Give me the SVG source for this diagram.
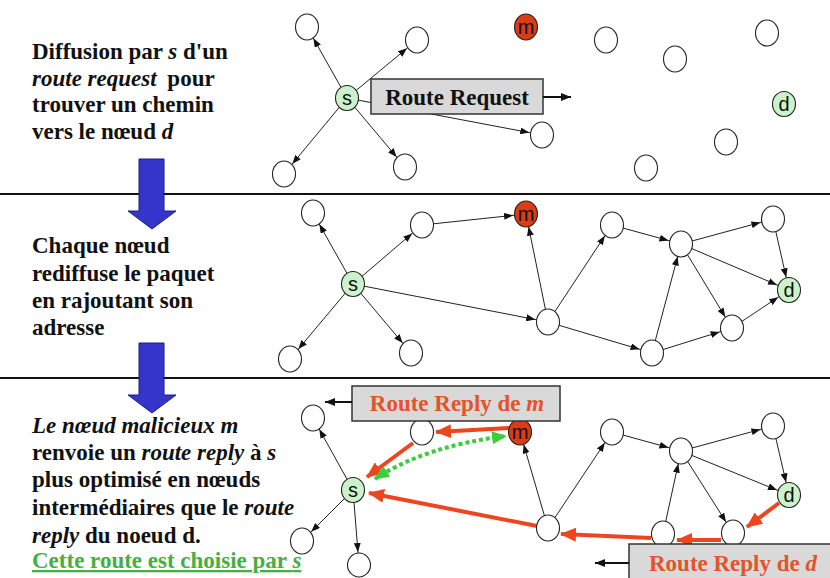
<svg xmlns="http://www.w3.org/2000/svg" width="830" height="578" viewBox="0 0 830 578">
<style>
.lbl{font-family:"Liberation Serif","Times New Roman",serif;font-weight:bold;font-size:23px;fill:#111}
.it{font-style:italic}
.n{fill:#fff;stroke:#222;stroke-width:1.1}
.ns{fill:#ccf2cc;stroke:#222;stroke-width:1.1}
.nm{fill:#dd3a16;stroke:#222;stroke-width:1.1}
.nt{font-family:"Liberation Sans",Arial,sans-serif;font-size:20px;fill:#111;text-anchor:middle}
.e{stroke:#222;stroke-width:1;fill:none;marker-end:url(#ah)}
.r{stroke:#ec4520;stroke-width:4;fill:none;marker-end:url(#rh)}
.box{fill:#d9d9d9;stroke:#333;stroke-width:1.5}
.bt{font-family:"Liberation Serif","Times New Roman",serif;font-weight:bold;font-size:23px;text-anchor:middle}
.sep{stroke:#111;stroke-width:2}
.blue{fill:#3535cc;stroke:#1c1c7a;stroke-width:1}
</style>
<defs>
<marker id="ah" markerUnits="userSpaceOnUse" viewBox="0 0 9 7" markerWidth="9" markerHeight="7" refX="22" refY="3.5" orient="auto"><path d="M0,0 L9,3.5 L0,7 z" fill="#111"/></marker>
<marker id="ak" markerUnits="userSpaceOnUse" viewBox="0 0 10 8" markerWidth="10" markerHeight="8" refX="10" refY="4" orient="auto"><path d="M0,0 L10,4 L0,8 z" fill="#111"/></marker>
<marker id="rh" markerUnits="userSpaceOnUse" viewBox="0 0 16 14" markerWidth="16" markerHeight="14" refX="15" refY="7" orient="auto"><path d="M0,0 L16,7 L0,14 z" fill="#ec4520"/></marker>
<marker id="gh" markerUnits="userSpaceOnUse" viewBox="0 0 15 13" markerWidth="15" markerHeight="13" refX="14" refY="6.5" orient="auto-start-reverse"><path d="M0,0 L15,6.5 L0,13 z" fill="#3ccc3c"/></marker>
</defs>

<line class="sep" x1="0" y1="194" x2="830" y2="194"/>
<line class="sep" x1="0" y1="378" x2="830" y2="378"/>

<g id="arrow1"><polygon class="blue" points="139,159 164,159 164,211 176,211 152,229 128,211 139,211"/></g>
<g id="arrow2"><polygon class="blue" points="139,343 164,343 164,395 176,395 152,413 128,395 139,395"/></g>

<g id="text1" class="lbl">
<text x="32" y="59">Diffusion par <tspan class="it">s</tspan> d'un</text>
<text x="32" y="86"><tspan class="it">route request</tspan><tspan dx="5"> pour</tspan></text>
<text x="32" y="112">trouver un chemin</text>
<text x="32" y="139">vers le nœud <tspan class="it">d</tspan></text>
</g>
<g id="text2" class="lbl">
<text x="32" y="253">Chaque nœud</text>
<text x="32" y="281">rediffuse le paquet</text>
<text x="32" y="308">en rajoutant son</text>
<text x="32" y="335">adresse</text>
</g>
<g id="text3" class="lbl">
<text x="32" y="433" class="it">Le nœud malicieux m</text>
<text x="32" y="460">renvoie un <tspan class="it">route reply</tspan> à <tspan class="it">s</tspan></text>
<text x="32" y="487">plus optimisé en nœuds</text>
<text x="32" y="515">intermédiaires que le <tspan class="it">route</tspan></text>
<text x="32" y="543"><tspan class="it">reply</tspan> du noeud d.</text>
<text x="32" y="568" style="fill:#44b044;text-decoration:underline">Cette route est choisie par <tspan class="it">s</tspan></text>
</g>

<g id="connectors">
<line class="e" x1="347" y1="98" x2="307" y2="27"/>
<line class="e" x1="347" y1="98" x2="417" y2="40"/>
<line class="e" x1="347" y1="98" x2="284" y2="174"/>
<line class="e" x1="347" y1="98" x2="405" y2="167"/>
<line class="e" x1="347" y1="98" x2="542" y2="135"/>
<line class="e" x1="353" y1="284" x2="313" y2="213"/>
<line class="e" x1="353" y1="284" x2="422" y2="225"/>
<line class="e" x1="422" y1="225" x2="526" y2="214"/>
<line class="e" x1="353" y1="284" x2="290" y2="359"/>
<line class="e" x1="353" y1="284" x2="411" y2="353"/>
<line class="e" x1="353" y1="284" x2="548" y2="322"/>
<line class="e" x1="548" y1="322" x2="526" y2="214"/>
<line class="e" x1="548" y1="322" x2="612" y2="225"/>
<line class="e" x1="548" y1="322" x2="652" y2="353"/>
<line class="e" x1="612" y1="225" x2="681" y2="244"/>
<line class="e" x1="652" y1="353" x2="681" y2="244"/>
<line class="e" x1="652" y1="353" x2="732" y2="328"/>
<line class="e" x1="681" y1="244" x2="773" y2="219"/>
<line class="e" x1="773" y1="219" x2="789" y2="290"/>
<line class="e" x1="681" y1="244" x2="789" y2="290"/>
<line class="e" x1="681" y1="244" x2="732" y2="328"/>
<line class="e" x1="732" y1="328" x2="789" y2="290"/>
<line class="e" x1="353" y1="490" x2="313" y2="418"/>
<line class="e" x1="353" y1="490" x2="302" y2="541"/>
<line class="e" x1="353" y1="490" x2="359" y2="565"/>
<line class="e" x1="548" y1="528" x2="520" y2="432"/>
<line class="e" x1="548" y1="528" x2="612" y2="432"/>
<line class="e" x1="612" y1="432" x2="681" y2="451"/>
<line class="e" x1="681" y1="451" x2="773" y2="426"/>
<line class="e" x1="773" y1="426" x2="789" y2="495"/>
<line class="e" x1="681" y1="451" x2="789" y2="495"/>
<line class="e" x1="681" y1="451" x2="733" y2="533"/>
<line class="e" x1="663" y1="534" x2="681" y2="451"/>
</g>

<g id="box-request">
<rect class="box" x="371" y="79" width="172" height="35"/>
<text class="bt" x="457" y="105" fill="#111">Route Request</text>
<line x1="543" y1="97" x2="571" y2="97" stroke="#111" stroke-width="2" marker-end="url(#ak)"/>
</g>

<g id="nodes-top">
<g id="t-a"><ellipse class="n" cx="307" cy="27" rx="11.5" ry="13"/></g>
<g id="t-b"><ellipse class="n" cx="417" cy="40" rx="11.5" ry="13"/></g>
<g id="t-m"><ellipse class="nm" cx="526" cy="27" rx="11.5" ry="13"/><text class="nt" x="526" y="34">m</text></g>
<g id="t-s"><ellipse class="ns" cx="347" cy="98" rx="11.5" ry="12.5"/><text class="nt" x="347" y="105">s</text></g>
<g id="t-c"><ellipse class="n" cx="284" cy="174" rx="11.5" ry="13"/></g>
<g id="t-e"><ellipse class="n" cx="405" cy="167" rx="11.5" ry="13"/></g>
<g id="t-f"><ellipse class="n" cx="542" cy="135" rx="11.5" ry="13"/></g>
<g id="t-g"><ellipse class="n" cx="606" cy="40" rx="11.5" ry="13"/></g>
<g id="t-h"><ellipse class="n" cx="675" cy="59" rx="11.5" ry="13"/></g>
<g id="t-i"><ellipse class="n" cx="767" cy="33" rx="11.5" ry="13"/></g>
<g id="t-d"><ellipse class="ns" cx="784" cy="104" rx="11.5" ry="12.5"/><text class="nt" x="784" y="111">d</text></g>
<g id="t-j"><ellipse class="n" cx="726" cy="142" rx="11.5" ry="13"/></g>
<g id="t-k"><ellipse class="n" cx="646" cy="168" rx="11.5" ry="13"/></g>
</g>

<g id="nodes-mid">
<g id="m-a"><ellipse class="n" cx="313" cy="213" rx="11.5" ry="13"/></g>
<g id="m-b"><ellipse class="n" cx="422" cy="225" rx="11.5" ry="13"/></g>
<g id="m-m"><ellipse class="nm" cx="526" cy="214" rx="11.5" ry="13"/><text class="nt" x="526" y="221">m</text></g>
<g id="m-s"><ellipse class="ns" cx="353" cy="284" rx="11.5" ry="12.5"/><text class="nt" x="353" y="291">s</text></g>
<g id="m-c"><ellipse class="n" cx="290" cy="359" rx="11.5" ry="13"/></g>
<g id="m-e"><ellipse class="n" cx="411" cy="353" rx="11.5" ry="13"/></g>
<g id="m-x"><ellipse class="n" cx="548" cy="322" rx="11.5" ry="13"/></g>
<g id="m-p"><ellipse class="n" cx="612" cy="225" rx="11.5" ry="13"/></g>
<g id="m-q"><ellipse class="n" cx="681" cy="244" rx="11.5" ry="13"/></g>
<g id="m-r"><ellipse class="n" cx="773" cy="219" rx="11.5" ry="13"/></g>
<g id="m-d"><ellipse class="ns" cx="789" cy="290" rx="11.5" ry="12.5"/><text class="nt" x="789" y="297">d</text></g>
<g id="m-S"><ellipse class="n" cx="732" cy="328" rx="11.5" ry="13"/></g>
<g id="m-t"><ellipse class="n" cx="652" cy="353" rx="11.5" ry="13"/></g>
</g>

<g id="red-connectors">
<line class="r" x1="509" y1="428" x2="436" y2="432"/>
<line class="r" x1="413" y1="443" x2="367" y2="477"/>
<line class="r" x1="537" y1="526" x2="369" y2="493"/>
<line class="r" x1="779" y1="503" x2="747" y2="527"/>
<line class="r" x1="721" y1="540" x2="677" y2="540"/>
<line class="r" x1="651" y1="538" x2="561" y2="534"/>
<path d="M375,479 Q425,446 506,436" fill="none" stroke="#3ccc3c" stroke-width="4" stroke-dasharray="4 3" marker-start="url(#gh)" marker-end="url(#gh)"/>
</g>

<g id="nodes-bot">
<g id="b-a"><ellipse class="n" cx="313" cy="418" rx="11.5" ry="13"/></g>
<g id="b-b"><ellipse class="n" cx="422" cy="432" rx="11.5" ry="13"/></g>
<g id="b-m"><ellipse class="nm" cx="520" cy="432" rx="11.5" ry="13"/><text class="nt" x="520" y="439">m</text></g>
<g id="b-s"><ellipse class="ns" cx="353" cy="490" rx="11.5" ry="12.5"/><text class="nt" x="353" y="497">s</text></g>
<g id="b-c"><ellipse class="n" cx="302" cy="541" rx="11.5" ry="13"/></g>
<g id="b-e"><ellipse class="n" cx="359" cy="565" rx="11.5" ry="12"/></g>
<g id="b-x"><ellipse class="n" cx="548" cy="528" rx="11.5" ry="13"/></g>
<g id="b-p"><ellipse class="n" cx="612" cy="432" rx="11.5" ry="13"/></g>
<g id="b-q"><ellipse class="n" cx="681" cy="451" rx="11.5" ry="13"/></g>
<g id="b-r"><ellipse class="n" cx="773" cy="426" rx="11.5" ry="13"/></g>
<g id="b-d"><ellipse class="ns" cx="789" cy="495" rx="11.5" ry="12.5"/><text class="nt" x="789" y="502">d</text></g>
<g id="b-S"><ellipse class="n" cx="733" cy="533" rx="11.5" ry="13"/></g>
<g id="b-t"><ellipse class="n" cx="663" cy="534" rx="11.5" ry="13"/></g>
</g>

<g id="box-reply-m">
<rect class="box" x="352" y="386" width="208" height="35"/>
<text class="bt" x="457" y="411" fill="#e4542c">Route Reply de <tspan class="it">m</tspan></text>
<line x1="352" y1="402" x2="325" y2="402" stroke="#111" stroke-width="2" marker-end="url(#ak)"/>
</g>
<g id="box-reply-d">
<rect class="box" x="629" y="544" width="205" height="40"/>
<text class="bt" x="733" y="571" fill="#e4542c">Route Reply de <tspan class="it">d</tspan></text>
<line x1="629" y1="563" x2="595" y2="563" stroke="#111" stroke-width="2" marker-end="url(#ak)"/>
</g>
</svg>
